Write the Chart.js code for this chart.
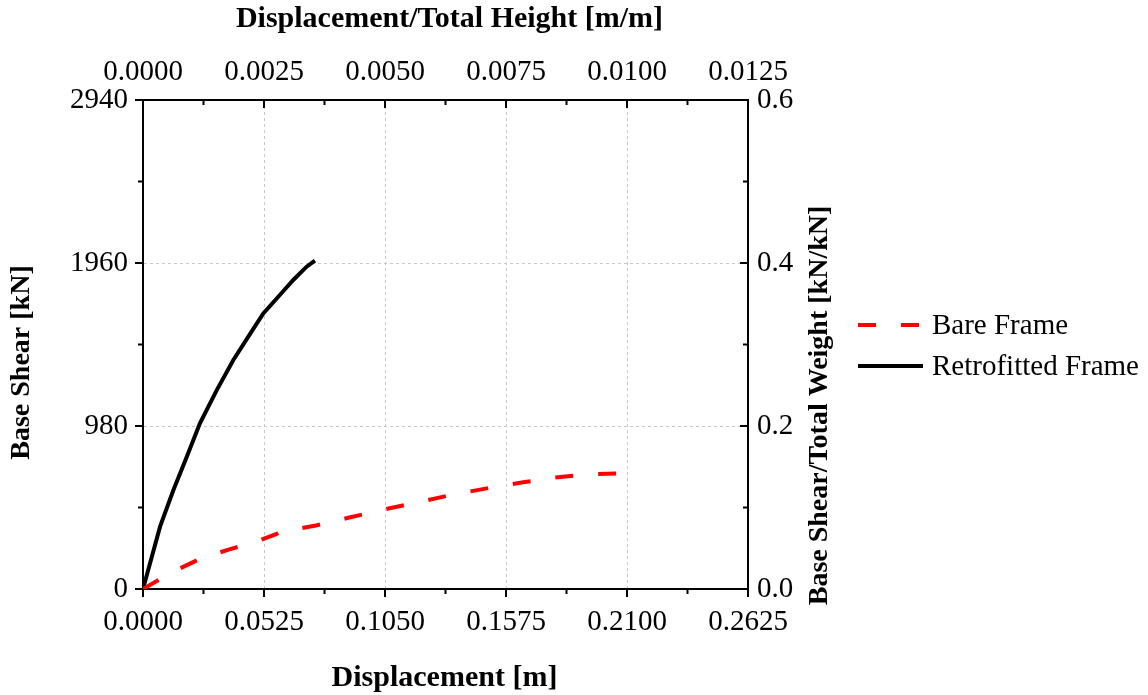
<!DOCTYPE html>
<html><head><meta charset="utf-8">
<script src="https://cdn.jsdelivr.net/npm/chart.js@4"></script>
<style>html,body{margin:0;padding:0;background:#fff;}canvas{display:block;}</style>
</head><body>
<canvas id="c" width="1148" height="695"></canvas>
<script>
// ---- data ----
const bareDisp   = [0, 0.0125, 0.025, 0.0375, 0.05, 0.058, 0.0602, 0.0623, 0.075, 0.09, 0.105, 0.12, 0.135, 0.15, 0.165, 0.18, 0.195, 0.21];
const bareShear  = [0, 100, 183, 238, 289, 331, 349, 350, 382, 431, 479, 524, 569, 607, 642, 672, 691, 697];
const retroDisp  = [0, 0.0074, 0.0132, 0.019, 0.0247, 0.032, 0.0392, 0.0457, 0.0522, 0.0587, 0.0652, 0.0710, 0.0746];
const retroShear = [0, 375, 595, 795, 996, 1196, 1377, 1517, 1657, 1757, 1858, 1938, 1974];
const seriesNames = ['Bare Frame', 'Retrofitted Frame'];
const bottomTickLabels = ['0.0000', '0.0525', '0.1050', '0.1575', '0.2100', '0.2625'];
const topTickLabels    = ['0.0000', '0.0025', '0.0050', '0.0075', '0.0100', '0.0125'];
const leftTickLabels   = ['0', '980', '1960', '2940'];
const rightTickLabels  = ['0.0', '0.2', '0.4', '0.6'];
const titleBottom = 'Displacement [m]';
const titleTop    = 'Displacement/Total Height [m/m]';
const titleLeft   = 'Base Shear [kN]';
const titleRight  = 'Base Shear/Total Weight [kN/kN]';

const FONT = "'Liberation Serif','Times New Roman',serif";
Chart.defaults.font.family = FONT;
Chart.defaults.font.size = 29;
Chart.defaults.color = '#000';

const majorLabel = arr => (v, i) => (i % 2 === 0 ? (arr[i / 2] ?? '') : '');
const gridColor = n => c => (c.index % 2 === 0 && c.index > 0 && c.index < n) ? '#c8c8c8' : 'rgba(0,0,0,0)';

function axis(pos, min, max, step, labels, pad, nTicks, onArea, fit) {
  return {
    type: 'linear', position: pos, min, max,
    border: { display: true, color: '#000', width: 2, dash: [3, 3] },
    grid: { drawTicks: false, drawOnChartArea: onArea, color: gridColor(nTicks), lineWidth: 1 },
    ticks: { stepSize: step, autoSkip: false, maxRotation: 0, padding: pad, callback: majorLabel(labels), color: '#000' },
    afterFit: fit
  };
}

const tickPlugin = {
  id: 'minorMajorTicks',
  afterDraw(chart) {
    const ctx = chart.ctx, ca = chart.chartArea, s = chart.scales;
    ctx.save();
    ctx.strokeStyle = '#000'; ctx.lineWidth = 2;
    const draw = (sc, fn) => sc.ticks.forEach((t, i) => {
      const p = sc.getPixelForTick(i); const L = i % 2 === 0 ? 8 : 5;
      ctx.beginPath(); fn(p, L); ctx.stroke();
    });
    draw(s.x,  (p, L) => { ctx.moveTo(p, ca.bottom); ctx.lineTo(p, ca.bottom + L); });
    draw(s.y,  (p, L) => { ctx.moveTo(ca.left, p); ctx.lineTo(ca.left - L, p); });
    draw(s.x2, (p, L) => { ctx.moveTo(p, ca.top); ctx.lineTo(p, ca.top + L); });
    draw(s.y2, (p, L) => { ctx.moveTo(ca.right, p); ctx.lineTo(ca.right - L, p); });
    ctx.restore();
  }
};

const titlePlugin = {
  id: 'axisTitles',
  afterDraw(chart) {
    const ctx = chart.ctx, ca = chart.chartArea;
    const cx = (ca.left + ca.right) / 2, cy = (ca.top + ca.bottom) / 2;
    ctx.save();
    ctx.fillStyle = '#000';
    ctx.textAlign = 'center'; ctx.textBaseline = 'middle';
    ctx.font = 'bold 30px ' + FONT;
    ctx.fillText(titleBottom, cx - 1, ca.bottom + 89);
    ctx.fillText(titleTop, cx + 4, ca.top - 81);
    ctx.font = 'bold 28px ' + FONT;
    ctx.save(); ctx.translate(ca.left - 121, cy + 18); ctx.rotate(-Math.PI / 2); ctx.fillText(titleLeft, 0, 0); ctx.restore();
    ctx.save(); ctx.translate(ca.right + 72, cy + 61); ctx.rotate(-Math.PI / 2); ctx.fillText(titleRight, 0, 0); ctx.restore();
    ctx.restore();
  }
};

const legendPlugin = {
  id: 'sideLegend',
  afterDraw(chart) {
    const ctx = chart.ctx;
    const rows = [{ y: 325, x2: 919 }, { y: 366, x2: 923 }];
    ctx.save();
    chart.data.datasets.forEach((ds, i) => {
      const r = rows[i];
      ctx.strokeStyle = ds.borderColor; ctx.lineWidth = ds.borderWidth;
      ctx.setLineDash(ds.borderDash || []);
      ctx.beginPath(); ctx.moveTo(858, r.y); ctx.lineTo(r.x2, r.y); ctx.stroke();
      ctx.setLineDash([]);
      ctx.fillStyle = '#000'; ctx.font = '29px ' + FONT;
      ctx.textAlign = 'left'; ctx.textBaseline = 'middle';
      ctx.fillText(ds.label, 932, r.y + 1);
    });
    ctx.restore();
  }
};

new Chart(document.getElementById('c'), {
  type: 'line',
  data: {
    datasets: [
      { label: seriesNames[0], data: bareDisp.map((x, i) => ({ x, y: bareShear[i] })),
        borderColor: '#ff0000', borderWidth: 4, borderDash: [18, 25], pointRadius: 0, tension: 0, fill: false,
        xAxisID: 'x', yAxisID: 'y' },
      { label: seriesNames[1], data: retroDisp.map((x, i) => ({ x, y: retroShear[i] })),
        borderColor: '#000000', borderWidth: 4, pointRadius: 0, tension: 0, fill: false,
        xAxisID: 'x', yAxisID: 'y' }
    ]
  },
  options: {
    responsive: false, animation: false, devicePixelRatio: 1,
    layout: { padding: { left: 0, right: 313, top: 0, bottom: 0 } },
    plugins: { legend: { display: false }, tooltip: { enabled: false } },
    scales: {
      x:  axis('bottom', 0, 0.2625, 0.02625, bottomTickLabels, 16, 10, true,  s => { s.height = 106; }),
      y:  axis('left',   0, 2940,   490,     leftTickLabels,   15, 6,  true,  s => { s.width = 143; }),
      x2: axis('top',    0, 0.0125, 0.00125, topTickLabels,    10, 10, false, s => { s.height = 100; }),
      y2: axis('right',  0, 0.6,    0.1,     rightTickLabels,  9,  6,  false, s => { s.width = 87; })
    }
  },
  plugins: [tickPlugin, titlePlugin, legendPlugin]
});
</script>
</body></html>
